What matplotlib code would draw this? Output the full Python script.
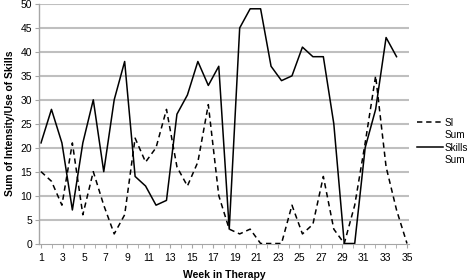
import numpy as np
import matplotlib
matplotlib.use('Agg')
import matplotlib.pyplot as plt
from matplotlib.lines import Line2D

plt.rcParams['font.family'] = ['Liberation Sans', 'DejaVu Sans']

# values per session (36 SI points, 35 skills points), axis labelled in weeks 1-35
si_sum = [15, 13, 8, 21, 6, 15, 8, 2, 6, 22, 17, 20, 28, 16, 12, 17, 29, 10,
          3, 2, 3, 0, 0, 0, 8, 2, 4, 14, 3, 0, 8, 21, 35, 16, 7, 0]
skills_sum = [21, 28, 21, 7, 21, 30, 15, 30, 38, 14, 12, 8, 9, 27, 31, 38, 33, 37,
              3, 45, 49, 49, 37, 34, 35, 41, 39, 39, 25, 0, 0, 20, 28, 43, 39]
week_ticks = list(range(1, 36, 2))
week_minor = list(range(1, 36))
y_ticks = list(range(0, 51, 5))

n_sess = len(si_sum)
sess_si = np.arange(1, n_sess + 1)
sess_sk = np.arange(1, len(skills_sum) + 1)

def to_week(s):
    return 1 + (np.asarray(s) - 1) * 34 / (n_sess - 1)

def to_sess(w):
    return 1 + (np.asarray(w) - 1) * (n_sess - 1) / 34

fig = plt.figure(figsize=(4.72, 2.80), dpi=100)
ax = fig.add_axes([39 / 472, 1 - 243.5 / 280, 370 / 472, 239.5 / 280])

grid_c = '#bfbfbf'
for y in y_ticks[1:]:
    ax.axhline(y, color=grid_c, lw=1.5, zorder=0)

ax.plot(sess_si, si_sum, color='black', lw=1.1, ls=(0, (3.5, 2.5)))
ax.plot(sess_sk, skills_sum, color='black', lw=1.1)

pad = 2 / (366 / (n_sess - 1))
ax.set_xlim(1 - pad, n_sess + pad)
ax.set_ylim(0, 50)
ax.set_yticks(y_ticks)
ax.set_xticks([])

sec = ax.secondary_xaxis('bottom', functions=(to_week, to_sess))
sec.set_xticks(week_ticks)
sec.set_xticks(week_minor, minor=True)
sec.tick_params(axis='x', which='both', length=3, color='#a6a6a6', labelsize=7.5, pad=4)
sec.spines['bottom'].set_color('#a6a6a6')
sec.set_xlabel('Week in Therapy', fontsize=7.5, fontweight='bold', labelpad=5)

for s in ['top', 'right', 'bottom']:
    ax.spines[s].set_visible(False)
ax.spines['left'].set_color('#a6a6a6')
ax.spines['left'].set_linewidth(1.0)
ax.tick_params(axis='y', length=3, color='#a6a6a6', labelsize=7.5, pad=2)

ax.set_ylabel('Sum of Intensity/Use of Skills', fontsize=7.5, fontweight='bold', labelpad=4)

blank = Line2D([], [], lw=0)
handles = [Line2D([], [], color='black', lw=1.1, ls=(0, (3.5, 2.5))), blank,
           Line2D([], [], color='black', lw=1.1), blank]
labels = ['SI', 'Sum', 'Skills', 'Sum']
ax.legend(handles, labels, loc='center left', bbox_to_anchor=(1.0, 0.426), frameon=False,
          fontsize=7.2, handlelength=2.6, handletextpad=0.15, labelspacing=0.25,
          borderpad=0.3)

fig.savefig('out.png', dpi=100)
